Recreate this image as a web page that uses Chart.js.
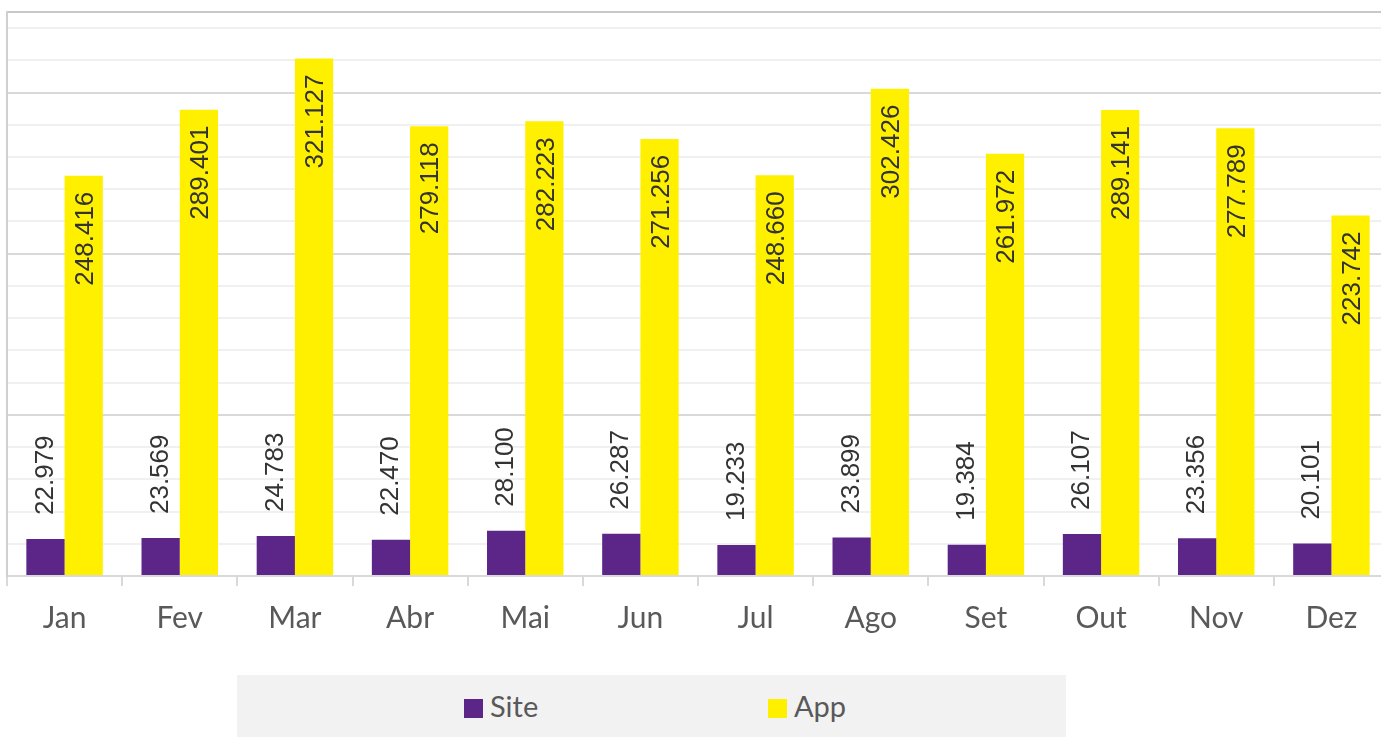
<!DOCTYPE html>
<html>
<head>
<meta charset="utf-8">
<script src="https://cdn.jsdelivr.net/npm/chart.js@4"></script>
<style>
  body { margin: 0; background: #fff; overflow: hidden; }
  #wrap { position: relative; width: 1381px; height: 737px; overflow: hidden; }
  #legenda { position: absolute; left: 237px; top: 675px; width: 829px; height: 62px; background: #f2f2f2; font-family: Lato, sans-serif; font-size: 29px; color: #595959; }
  .item { position: absolute; top: 14px; line-height: 34px; }
  .item i { display: inline-block; width: 19px; height: 19px; margin-right: 7px; vertical-align: -1px; }
</style>
</head>
<body>
<div id="wrap">
  <canvas id="grafico" width="1389" height="737"></canvas>
  <div id="legenda"></div>
</div>
<script>
const meses = ['Jan', 'Fev', 'Mar', 'Abr', 'Mai', 'Jun', 'Jul', 'Ago', 'Set', 'Out', 'Nov', 'Dez'];
const site = [22979, 23569, 24783, 22470, 28100, 26287, 19233, 23899, 19384, 26107, 23356, 20101];
const app = [248416, 289401, 321127, 279118, 282223, 271256, 248660, 302426, 261972, 289141, 277789, 223742];
const cores = ['#5c2689', '#fff000'];
const nomes = ['Site', 'App'];
const eixoMax = 350000;
const passo = 20000;

// rótulos verticais em cima / dentro das barras
const rotulos = {
  id: 'rotulos',
  afterDatasetsDraw(chart) {
    const ctx = chart.ctx;
    chart.data.datasets.forEach(function(ds, i) {
      chart.getDatasetMeta(i).data.forEach(function(bar, j) {
        ctx.save();
        ctx.font = '26px "Liberation Sans", Arial, sans-serif';
        ctx.fillStyle = '#333333';
        ctx.textBaseline = 'middle';
        if (i === 0) {
          ctx.translate(bar.x - 1, bar.y - 24);
          ctx.textAlign = 'left';
        } else {
          ctx.translate(bar.x + 1, bar.y + 16);
          ctx.textAlign = 'right';
        }
        ctx.rotate(-Math.PI / 2);
        ctx.fillText(ds.data[j].toLocaleString('pt-BR'), 0, 1);
        ctx.restore();
      });
    });
  }
};

new Chart(document.getElementById('grafico'), {
  type: 'bar',
  data: {
    labels: meses,
    datasets: [
      { label: nomes[0], data: site, backgroundColor: cores[0] },
      { label: nomes[1], data: app, backgroundColor: cores[1] }
    ]
  },
  options: {
    responsive: false,
    animation: false,
    categoryPercentage: 0.664,
    barPercentage: 1,
    layout: { padding: { left: 7, top: 12, right: 0, bottom: 87 } },
    plugins: { legend: { display: false }, tooltip: { enabled: false } },
    scales: {
      x: {
        grid: { offset: true, drawOnChartArea: false, tickLength: 10, color: '#d9d9d9', lineWidth: 2 },
        border: { color: '#d9d9d9', width: 2 },
        ticks: { padding: 14, color: '#595959', font: { family: 'Lato', size: 30 } }
      },
      y: {
        min: 0,
        max: eixoMax,
        ticks: { display: false },
        afterBuildTicks: function(scale) {
          const t = [];
          for (let v = 0; v < eixoMax; v += passo) t.push({ value: v });
          t.push({ value: eixoMax });
          scale.ticks = t;
        },
        grid: {
          drawTicks: false,
          lineWidth: 2,
          color: function(c) {
            const v = c.tick.value;
            if (v === eixoMax) return '#c8c8c8';
            if (v % 100000 === 0) return '#d9d9d9';
            return '#f0f0f0';
          }
        },
        border: { color: '#d0d0d0', width: 2 }
      }
    }
  },
  plugins: [rotulos]
});

// legenda
const leg = document.getElementById('legenda');
const posicoes = [227, 531];
nomes.forEach(function(n, i) {
  const d = document.createElement('div');
  d.className = 'item';
  d.style.left = posicoes[i] + 'px';
  d.innerHTML = '<i style="background:' + cores[i] + '"></i>' + n;
  leg.appendChild(d);
});
</script>
</body>
</html>
